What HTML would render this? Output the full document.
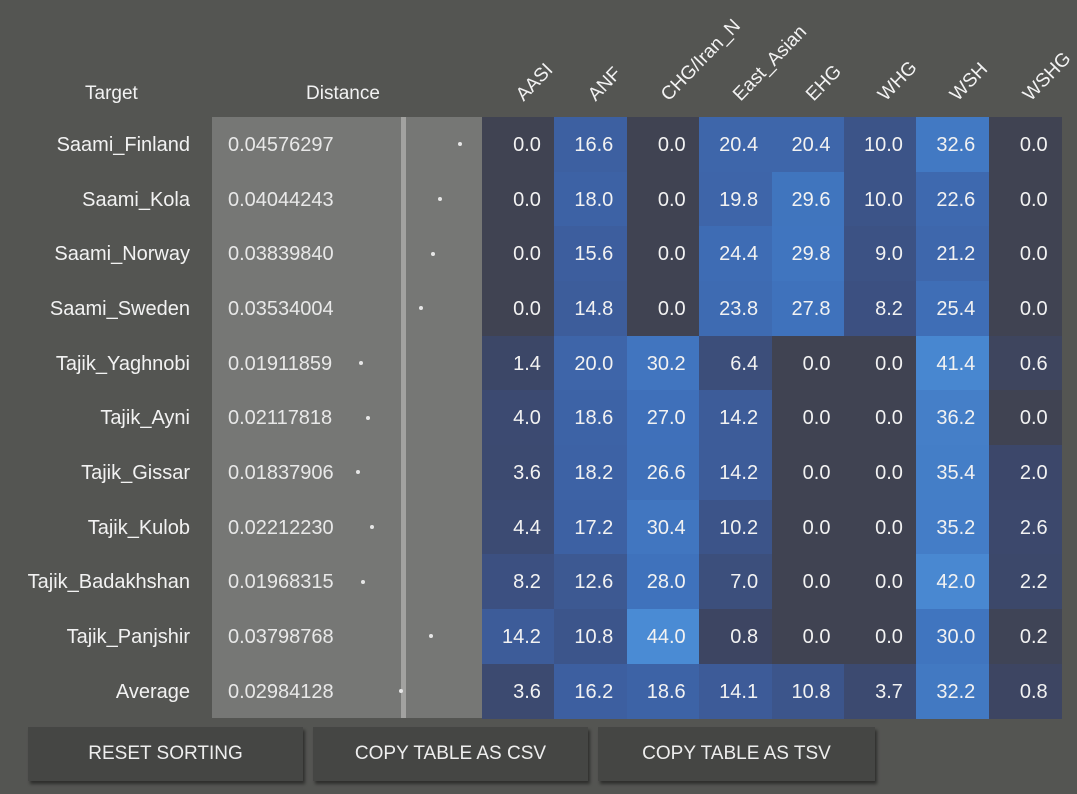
<!DOCTYPE html>
<html><head><meta charset="utf-8"><style>
body{margin:0;width:1077px;height:794px;background:#545552;font-family:"Liberation Sans",sans-serif;color:#f2f2f2;overflow:hidden;position:relative}
.abs{position:absolute}
.name{position:absolute;right:887px;font-size:20px;text-align:right;white-space:nowrap}
.cell{position:absolute;font-size:20px;text-align:right;box-sizing:border-box;padding-right:14px;padding-top:3px}
.hdr{position:absolute;font-size:19px;transform-origin:0 100%;transform:rotate(-46deg);white-space:nowrap}
.btn{position:absolute;top:727px;height:54px;background:#454644;box-shadow:2px 3px 3px rgba(0,0,0,.45);font-size:19px;text-align:center;line-height:54px;color:#eee}
</style></head><body>
<div class="abs" style="left:85px;top:83px;font-size:19px">Target</div>
<div class="abs" style="left:306px;top:83px;font-size:19px">Distance</div>
<div class="abs" style="left:212px;top:117px;width:270px;height:601px;background:#767775"></div>
<div class="abs" style="left:401px;top:117px;width:5px;height:601px;background:#a2a2a0"></div>
<div id="rows"></div>
<div class="btn" style="left:28px;width:275px">RESET SORTING</div>
<div class="btn" style="left:313px;width:275px">COPY TABLE AS CSV</div>
<div class="btn" style="left:598px;width:277px">COPY TABLE AS TSV</div>
<script>
const columns=["AASI","ANF","CHG/Iran_N","East_Asian","EHG","WHG","WSH","WSHG"];
const targets=["Saami_Finland","Saami_Kola","Saami_Norway","Saami_Sweden","Tajik_Yaghnobi","Tajik_Ayni","Tajik_Gissar","Tajik_Kulob","Tajik_Badakhshan","Tajik_Panjshir","Average"];
const distances=[0.04576297,0.04044243,0.03839840,0.03534004,0.01911859,0.02117818,0.01837906,0.02212230,0.01968315,0.03798768,0.02984128];
const values=[
[0.0,16.6,0.0,20.4,20.4,10.0,32.6,0.0],
[0.0,18.0,0.0,19.8,29.6,10.0,22.6,0.0],
[0.0,15.6,0.0,24.4,29.8,9.0,21.2,0.0],
[0.0,14.8,0.0,23.8,27.8,8.2,25.4,0.0],
[1.4,20.0,30.2,6.4,0.0,0.0,41.4,0.6],
[4.0,18.6,27.0,14.2,0.0,0.0,36.2,0.0],
[3.6,18.2,26.6,14.2,0.0,0.0,35.4,2.0],
[4.4,17.2,30.4,10.2,0.0,0.0,35.2,2.6],
[8.2,12.6,28.0,7.0,0.0,0.0,42.0,2.2],
[14.2,10.8,44.0,0.8,0.0,0.0,30.0,0.2],
[3.6,16.2,18.6,14.1,10.8,3.7,32.2,0.8]];
const top0=117,rowH=54.65,colX=482,colW=72.4;
const distX=d=>289.5+d*3725;
const stops=[[0,[64,67,82]],[1,[60,70,102]],[8,[60,80,128]],[16,[61,95,160]],[28,[63,114,188]],[44,[74,139,212]]];
function color(v){for(let i=1;i<stops.length;i++){if(v<=stops[i][0]||i==stops.length-1){const[a,ca]=stops[i-1],[b,cb]=stops[i];const t=Math.min(1,(v-a)/(b-a));return`rgb(${ca.map((c,k)=>Math.round(c+(cb[k]-c)*t)).join(',')})`;}}}
const root=document.getElementById('rows');
columns.forEach((c,j)=>{const h=document.createElement('div');h.className='hdr';


h.style.left=(colX+j*colW+46)+'px';h.style.top='84px';h.textContent=c;root.appendChild(h);});
targets.forEach((t,i)=>{const y=top0+i*rowH;
const n=document.createElement('div');n.className='name';


n.style.top=(y+17)+'px';n.textContent=t;root.appendChild(n);
const d=document.createElement('div');d.className='abs';


d.style.cssText=`left:228px;top:${y+17}px;font-size:20px;color:#e8e8e8`;d.textContent=distances[i].toFixed(8);root.appendChild(d);
const p=document.createElement('div');p.className='abs';


p.style.cssText=`left:${distX(distances[i])-2}px;top:${y+rowH/2-2}px;width:4px;height:4px;border-radius:50%;background:#e6e6e6`;root.appendChild(p);
values[i].forEach((v,j)=>{const c=document.createElement('div');c.className='cell';


c.style.cssText+=`left:${colX+j*colW}px;top:${y}px;width:${colW+0.5}px;height:${rowH+0.5}px;line-height:${rowH-3}px;background:${color(v)}`;
c.textContent=v.toFixed(1);root.appendChild(c);});
});
</script>
</body></html>
